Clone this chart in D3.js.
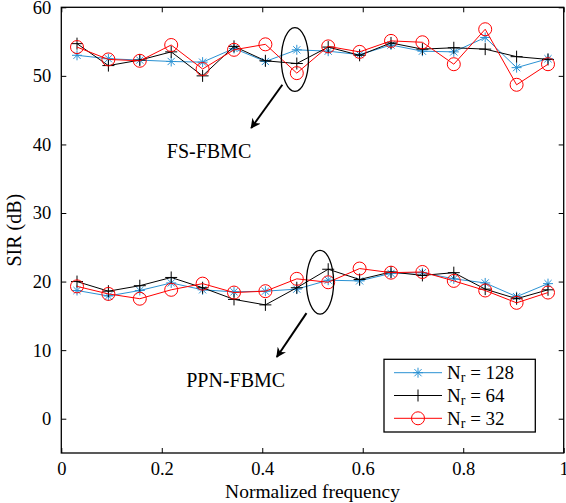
<!DOCTYPE html>
<html>
<head>
<meta charset="utf-8">
<script src="https://cdn.jsdelivr.net/npm/d3@7"></script>
<style>
  body { margin: 0; background: #fff; }
  svg { display: block; font-family: "Liberation Serif", "DejaVu Serif", serif; }
</style>
</head>
<body>
<div id="chart"></div>
<script>
// normalized frequency of each subcarrier group (16 points)
var freq = [0.03125, 0.09375, 0.15625, 0.21875, 0.28125, 0.34375, 0.40625, 0.46875,
            0.53125, 0.59375, 0.65625, 0.71875, 0.78125, 0.84375, 0.90625, 0.96875];

// FS-FBMC (upper group)
var fs128 = [53.0, 52.5, 52.3, 52.1, 52.0, 54.0, 52.1, 53.8, 53.6, 53.1, 54.5, 53.6, 53.5, 55.6, 51.2, 52.5];
var fs64  = [54.7, 51.5, 52.3, 53.5, 50.0, 54.3, 52.2, 51.8, 54.2, 53.0, 54.8, 53.9, 54.1, 53.9, 52.8, 52.4];
var fs32  = [54.2, 52.4, 52.2, 54.5, 51.0, 53.8, 54.6, 50.4, 54.3, 53.5, 55.1, 54.9, 51.7, 56.8, 48.7, 51.7];

// PPN-FBMC (lower group)
var ppn128 = [18.7, 17.9, 18.7, 19.8, 18.8, 18.5, 18.6, 18.9, 20.2, 20.1, 21.2, 21.3, 20.4, 19.8, 17.8, 19.7];
var ppn64  = [20.0, 18.6, 19.4, 20.6, 19.1, 17.4, 16.6, 19.1, 21.8, 20.3, 21.4, 20.9, 21.3, 18.9, 17.5, 18.8];
var ppn32  = [19.3, 18.2, 17.5, 18.8, 19.7, 18.4, 18.6, 20.4, 19.9, 21.9, 21.3, 21.4, 20.1, 18.7, 16.9, 18.4];

var xTicks = [0, 0.2, 0.4, 0.6, 0.8, 1];
var yTicks = [0, 10, 20, 30, 40, 50, 60];
var seriesNames = ["128", "64", "32"];

var margin = {top: 7.3, right: 2.3, bottom: 50, left: 61.3},
    width = 566 - margin.left - margin.right,
    height = 503 - margin.top - margin.bottom;

var x = d3.scaleLinear().domain([0, 1]).range([0, width]);
var y = d3.scaleLinear().domain([-5, 60]).range([height, 0]);

var colors = {"128": "#2b92d3", "64": "#000000", "32": "#ff0000"};
var markers = {"128": "star", "64": "plus", "32": "circle"};

var svg = d3.select("#chart").append("svg")
    .attr("width", 566)
    .attr("height", 503)
  .append("g")
    .attr("transform", "translate(" + margin.left + "," + margin.top + ")");

// axes with inward ticks on all sides
var tl = 5;
svg.append("g")
    .attr("transform", "translate(0," + height + ")")
    .call(d3.axisBottom(x).tickValues(xTicks).tickSizeInner(-tl).tickSizeOuter(0).tickPadding(9)
      .tickFormat(function(d) { return d === 0 || d === 1 ? d : d3.format(".1f")(d); }));
svg.append("g")
    .call(d3.axisTop(x).tickValues(xTicks).tickSizeInner(-tl).tickSizeOuter(0).tickFormat(""));
svg.append("g")
    .call(d3.axisLeft(y).tickValues(yTicks).tickSizeInner(-tl).tickSizeOuter(0).tickPadding(10));
svg.append("g")
    .attr("transform", "translate(" + width + ",0)")
    .call(d3.axisRight(y).tickValues(yTicks).tickSizeInner(-tl).tickSizeOuter(0).tickFormat(""));

svg.selectAll(".domain").remove();
svg.selectAll(".tick line").attr("stroke", "#000").attr("stroke-width", 1);
svg.selectAll(".tick text").attr("font-size", 18.5).attr("font-family", "Liberation Serif, serif").attr("fill", "#000");

svg.append("rect")
    .attr("width", width)
    .attr("height", height)
    .attr("fill", "none")
    .attr("stroke", "#000")
    .attr("stroke-width", 1.3);

function drawMarker(g, type, color) {
  if (type === "circle") {
    g.append("circle").attr("r", 6.5).attr("fill", "none").attr("stroke", color).attr("stroke-width", 1);
  } else if (type === "plus") {
    g.append("path").attr("d", "M-6,0H6M0,-6V6").attr("stroke", color).attr("stroke-width", 1);
  } else {
    var r = 5, q = 3.6;
    g.append("path")
      .attr("d", "M-" + r + ",0H" + r + "M0,-" + r + "V" + r +
                 "M-" + q + ",-" + q + "L" + q + "," + q + "M-" + q + "," + q + "L" + q + ",-" + q)
      .attr("stroke", color).attr("stroke-width", 1);
  }
}

var line = d3.line()
    .x(function(d) { return x(d[0]); })
    .y(function(d) { return y(d[1]); });

var groups = [
  {name: "128", values: [fs128, ppn128]},
  {name: "64", values: [fs64, ppn64]},
  {name: "32", values: [fs32, ppn32]}
];

// draw order: blue first, then black, red on top
groups.forEach(function(s) {
  s.values.forEach(function(vals) {
    var pts = freq.map(function(f, i) { return [f, vals[i]]; });
    svg.append("path")
        .datum(pts)
        .attr("fill", "none")
        .attr("stroke", colors[s.name])
        .attr("stroke-width", 1)
        .attr("d", line);
    pts.forEach(function(p) {
      var g = svg.append("g").attr("transform", "translate(" + x(p[0]) + "," + y(p[1]) + ")");
      drawMarker(g, markers[s.name], colors[s.name]);
    });
  });
});

// annotations: ellipses + arrows
var defs = svg.append("defs");
defs.append("marker")
    .attr("id", "arrow")
    .attr("viewBox", "0 0 10 10")
    .attr("refX", 9).attr("refY", 5)
    .attr("markerWidth", 5).attr("markerHeight", 5)
    .attr("markerUnits", "strokeWidth")
    .attr("orient", "auto")
  .append("path")
    .attr("d", "M0,0L10,5L0,10L3,5Z")
    .attr("fill", "#000");

var ellipses = [
  {cx: 0.465, cy: 52.4, x1: 0.44, y1: 48.7, x2: 0.378, y2: 42.4},
  {cx: 0.515, cy: 19.9, x1: 0.488, y1: 15.4, x2: 0.429, y2: 9.0}
];
ellipses.forEach(function(e) {
  svg.append("ellipse")
      .attr("cx", x(e.cx)).attr("cy", y(e.cy))
      .attr("rx", x(0.027) - x(0)).attr("ry", y(0) - y(4.65))
      .attr("fill", "none").attr("stroke", "#000").attr("stroke-width", 1.3);
  svg.append("line")
      .attr("x1", x(e.x1)).attr("y1", y(e.y1))
      .attr("x2", x(e.x2)).attr("y2", y(e.y2))
      .attr("stroke", "#000").attr("stroke-width", 2)
      .attr("marker-end", "url(#arrow)");
});

svg.append("text")
    .attr("x", x(0.294)).attr("y", y(38.0))
    .attr("text-anchor", "middle")
    .attr("font-size", 20)
    .text("FS-FBMC");
svg.append("text")
    .attr("x", x(0.347)).attr("y", y(4.6))
    .attr("text-anchor", "middle")
    .attr("font-size", 20)
    .text("PPN-FBMC");

// axis titles
svg.append("text")
    .attr("x", width / 2)
    .attr("y", height + 45)
    .attr("text-anchor", "middle")
    .attr("font-size", 19.5)
    .text("Normalized frequency");
svg.append("text")
    .attr("transform", "translate(-40," + (height / 2) + ") rotate(-90)")
    .attr("text-anchor", "middle")
    .attr("font-size", 20)
    .text("SIR (dB)");

// legend
var lg = svg.append("g").attr("transform", "translate(" + (384 - margin.left) + "," + (359.3 - margin.top) + ")");
lg.append("rect")
    .attr("width", 151.3).attr("height", 72.7)
    .attr("fill", "#fff").attr("stroke", "#000").attr("stroke-width", 1.3);
var item = lg.selectAll(".item")
    .data(seriesNames)
    .enter().append("g")
    .attr("transform", function(d, i) { return "translate(0," + (13.4 + i * 22.8) + ")"; });
item.append("line")
    .attr("x1", 10).attr("x2", 58)
    .attr("stroke", function(d) { return colors[d]; })
    .attr("stroke-width", 1);
item.each(function(d) {
  var g = d3.select(this).append("g").attr("transform", "translate(34,0)");
  drawMarker(g, markers[d], colors[d]);
});
var lt = item.append("text")
    .attr("x", 63).attr("y", 6.5)
    .attr("font-size", 19);
lt.append("tspan").text("N");
lt.append("tspan").attr("font-size", 14).attr("dy", 3).text("r");
lt.append("tspan").attr("dy", -3).text(function(d) { return " = " + d; });
</script>
</body>
</html>
